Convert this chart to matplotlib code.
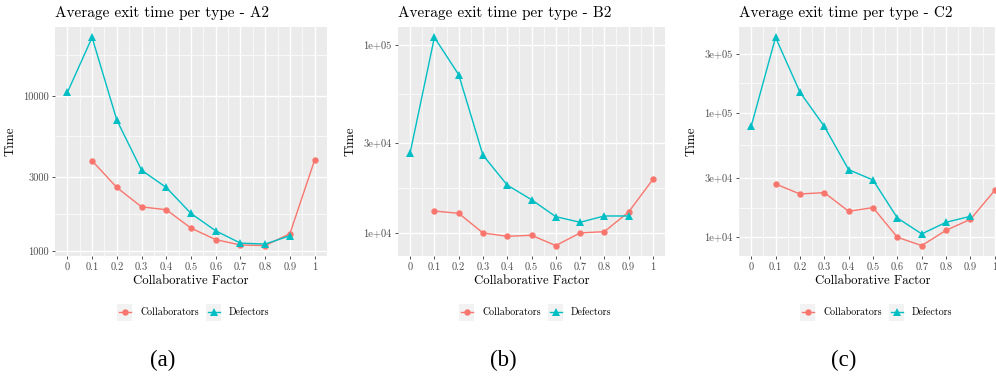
import matplotlib
matplotlib.use("Agg")
import matplotlib.pyplot as plt
from matplotlib.lines import Line2D
from matplotlib.patches import Rectangle
import numpy as np

plt.rcParams['font.family'] = ['cmr10', 'DejaVu Sans']
plt.rcParams['axes.unicode_minus'] = False

W, H = 996, 377

factor = [0.0, 0.1, 0.2, 0.3, 0.4, 0.5, 0.6, 0.7, 0.8, 0.9, 1.0]
x_ticklabels = ["0", "0.1", "0.2", "0.3", "0.4", "0.5", "0.6", "0.7", "0.8", "0.9", "1"]

# exit times, NaN where a type has no agents
a2_collab = [np.nan, 3810, 2560, 1920, 1840, 1400, 1180, 1090, 1080, 1290, 3850]
a2_defect = [10500, 23800, 6970, 3310, 2560, 1740, 1345, 1120, 1105, 1250, np.nan]

b2_collab = [np.nan, 13030, 12670, 9960, 9560, 9680, 8530, 9960, 10120, 12870, 19200]
b2_defect = [26600, 109400, 69300, 25840, 17910, 14970, 12160, 11350, 12260, 12260, np.nan]

c2_collab = [np.nan, 26850, 22300, 22870, 16190, 17330, 10000, 8570, 11380, 13950, 23870]
c2_defect = [78100, 406000, 147500, 78100, 35000, 28900, 14300, 10640, 13200, 14750, np.nan]

a2_breaks = [1000, 3000, 10000]
a2_labels = ["1000", "3000", "10000"]
b2_breaks = [10000, 30000, 100000]
b2_labels = ["1e+04", "3e+04", "1e+05"]
c2_breaks = [10000, 30000, 100000, 300000]
c2_labels = ["1e+04", "3e+04", "1e+05", "3e+05"]

COL_C = "#F8766D"
COL_D = "#00BFC4"
TICK_GREY = "#4D4D4D"

fig = plt.figure(figsize=(W / 100, H / 100), dpi=100)


def px_box(l, t, r, b):
    return [l / W, 1 - b / H, (r - l) / W, (b - t) / H]


def draw_panel(box, name, collab, defect, breaks, labels, legend_left, tag, tag_x):
    ax = fig.add_axes(px_box(*box))
    ax.set_facecolor("#EBEBEB")
    for s in ax.spines.values():
        s.set_visible(False)

    ax.plot(factor, collab, color=COL_C, lw=1.0, marker="o", ms=4.6, mew=0, zorder=3)
    ax.plot(factor, defect, color=COL_D, lw=1.0, marker="^", ms=5.4, mew=0, zorder=3)

    ax.set_yscale("log")
    vals = np.log10(np.concatenate([collab, defect]))
    lo, hi = np.nanmin(vals), np.nanmax(vals)
    pad = 0.05 * (hi - lo)
    ax.set_ylim(10 ** (lo - pad), 10 ** (hi + pad))
    ax.set_xlim(-0.05, 1.05)

    # ggplot-style minor breaks halfway between majors in log space
    ext = [breaks[0] / 3.3333] + list(breaks) + [breaks[-1] * 3.3333]
    minors = [np.sqrt(ext[i] * ext[i + 1]) for i in range(len(ext) - 1)]

    ax.yaxis.set_major_locator(plt.FixedLocator(breaks))
    ax.yaxis.set_major_formatter(plt.FixedFormatter(labels))
    ax.yaxis.set_minor_locator(plt.FixedLocator(minors))
    ax.yaxis.set_minor_formatter(plt.NullFormatter())
    ax.set_xticks(factor)
    ax.set_xticklabels(x_ticklabels)
    ax.set_xticks([0.05 + 0.1 * i for i in range(10)], minor=True)

    ax.grid(True, which="major", color="white", lw=1.0)
    ax.grid(True, which="minor", color="white", lw=0.5)
    ax.set_axisbelow(True)
    ax.tick_params(which="major", length=2.5, width=0.6, color="#333333",
                   labelsize=7.5, labelcolor=TICK_GREY, pad=2)
    ax.tick_params(which="minor", length=0)

    ax.set_xlabel("Collaborative Factor", fontsize=9.2, labelpad=2)
    ax.set_ylabel("Time", fontsize=9.4, labelpad=5)
    ax.set_title("Average exit time per type - " + name, loc="left",
                 fontsize=11, pad=7)

    # legend row below the panel
    y_c = 1 - 312 / H
    kh, kw = 17 / H, 15 / W
    for i, (lab, col, mk) in enumerate([("Collaborators", COL_C, "o"),
                                         ("Defectors", COL_D, "^")]):
        kx = (legend_left + 89 * i) / W
        fig.patches.append(Rectangle((kx, y_c - kh / 2), kw, kh,
                                     transform=fig.transFigure,
                                     facecolor="#F2F2F2", edgecolor="none"))
        fig.lines.append(Line2D([kx + 1.5 / W, kx + kw - 1.5 / W], [y_c, y_c],
                                transform=fig.transFigure, color=col, lw=1.0))
        fig.lines.append(Line2D([kx + kw / 2], [y_c], transform=fig.transFigure,
                                color=col, marker=mk, ms=4.6 if mk == "o" else 5.4,
                                mew=0))
        fig.text(kx + 23 / W, y_c, lab, fontsize=7.2, va="center", ha="left")

    fig.text(tag_x / W, 1 - 360 / H, tag, fontsize=16.5, ha="center", va="center",
             family="Liberation Serif")
    return ax


draw_panel((55, 27, 327, 256), "A2", a2_collab, a2_defect, a2_breaks, a2_labels, 117, "(a)", 163)
draw_panel((398, 27, 665, 256), "B2", b2_collab, b2_defect, b2_breaks, b2_labels, 459, "(b)", 503)
draw_panel((739, 27, 1007, 256), "C2", c2_collab, c2_defect, c2_breaks, c2_labels, 800, "(c)", 844)

fig.savefig("out.png", dpi=100)
